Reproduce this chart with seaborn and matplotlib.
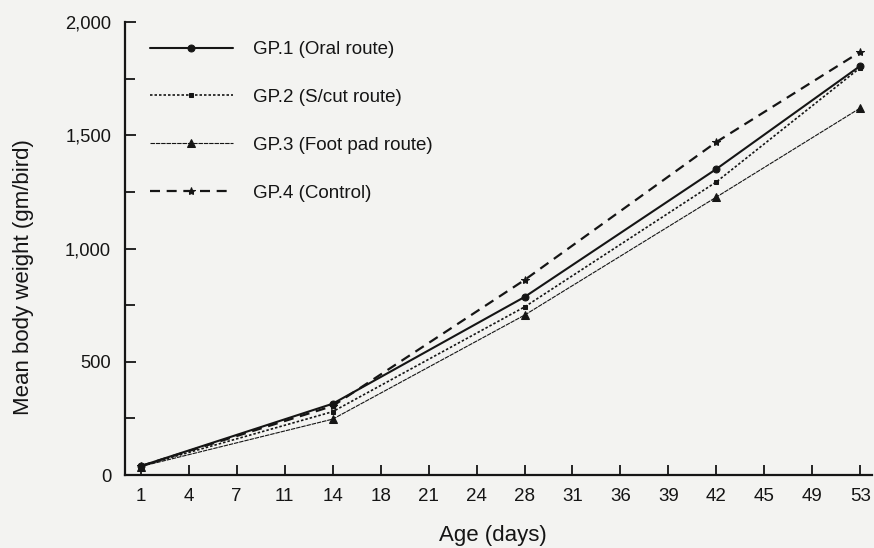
import numpy as np
import pandas as pd
import seaborn as sns
import matplotlib.pyplot as plt

# x axis categories (evenly spaced in the original figure)
age_ticks = [1, 4, 7, 11, 14, 18, 21, 24, 28, 31, 36, 39, 42, 45, 49, 53]

# measured ages and mean body weights (gm/bird)
days = [1, 14, 28, 42, 53]
gp1 = [40, 315, 786, 1351, 1806]
gp2 = [40, 280, 742, 1294, 1798]
gp3 = [38, 247, 706, 1227, 1620]
gp4 = [40, 305, 861, 1470, 1868]

groups = ["GP.1 (Oral route)", "GP.2 (S/cut route)",
          "GP.3 (Foot pad route)", "GP.4 (Control)"]
values = [gp1, gp2, gp3, gp4]

df = pd.DataFrame({
    "group": np.repeat(groups, len(days)),
    "pos": [age_ticks.index(d) for d in days] * len(groups),
    "weight": np.concatenate(values),
})

sns.set_style("ticks")
plt.rcParams["font.family"] = ["Liberation Sans", "DejaVu Sans"]

bg = "#f3f3f1"
ink = "#151515"

fig = plt.figure(figsize=(8.74, 5.48), dpi=100, facecolor=bg)
ax = fig.add_axes([0.143, 0.133, 0.855, 0.827], facecolor=bg)

styles = {
    groups[0]: dict(marker="o", ms=5, lw=1.5, ls="-"),
    groups[1]: dict(marker="s", ms=3.5, lw=1.2, ls=(0, (1.5, 1.2))),
    groups[2]: dict(marker="^", ms=5.5, lw=0.8, ls=(0, (4, 0.8))),
    groups[3]: dict(marker="*", ms=6, lw=1.6, ls=(0, (4.5, 3))),
}

for g in groups:
    st = styles[g]
    sns.lineplot(
        data=df[df["group"] == g],
        x="pos", y="weight",
        color=ink, marker=st["marker"], markersize=st["ms"],
        markeredgecolor=ink, linewidth=st["lw"], linestyle=st["ls"],
        label=g, ax=ax,
    )

ax.set_xlim(-0.33, 15.25)
ax.set_ylim(0, 2000)
ax.set_xticks(range(len(age_ticks)))
ax.set_xticklabels([str(a) for a in age_ticks])
ax.set_yticks([0, 500, 1000, 1500, 2000])
ax.set_yticklabels(["0", "500", "1,000", "1,500", "2,000"])
ax.set_yticks([250, 750, 1250, 1750], minor=True)

ax.tick_params(axis="x", direction="in", length=7, width=1.3,
               labelsize=13.5, colors=ink, pad=9)
ax.tick_params(axis="y", direction="in", length=8, width=1.3,
               labelsize=13.2, colors=ink, pad=10)
ax.tick_params(axis="y", which="minor", direction="in", length=7, width=1.3,
               colors=ink)

for side in ["top", "right"]:
    ax.spines[side].set_visible(False)
for side in ["left", "bottom"]:
    ax.spines[side].set_linewidth(1.6)
    ax.spines[side].set_color(ink)

ax.set_xlabel("Age (days)", fontsize=16, color=ink)
ax.set_ylabel("Mean body weight (gm/bird)", fontsize=16, color=ink)
ax.xaxis.set_label_coords(0.492, -0.11)
ax.yaxis.set_label_coords(-0.122, 0.437)

leg = ax.legend(loc="upper left", bbox_to_anchor=(0.011, 0.995), frameon=False,
                fontsize=13.5, handlelength=4.4, handletextpad=1.1,
                labelspacing=1.64, markerscale=1.0)
for t in leg.get_texts():
    t.set_color(ink)

fig.savefig("out.png", dpi=100, facecolor=bg)
